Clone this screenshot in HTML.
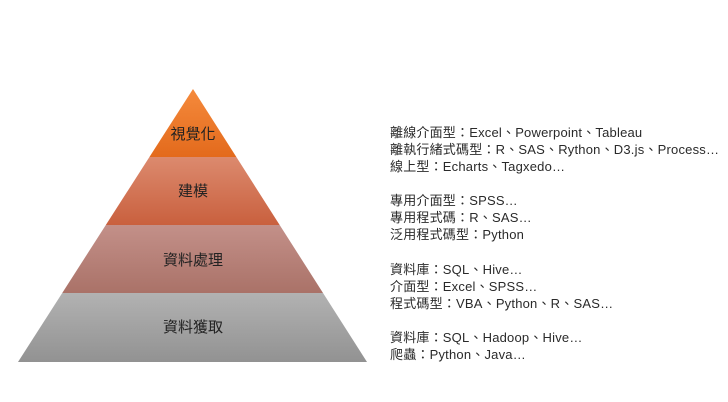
<!DOCTYPE html>
<html><head><meta charset="utf-8"><style>
body{margin:0;background:#fff;width:728px;height:402px;overflow:hidden;position:relative;font-family:"Liberation Sans","Noto Sans CJK TC",sans-serif}
.t{position:absolute;left:390px;font-size:13px;letter-spacing:0.2px;color:#2a2a2a;line-height:17px;white-space:nowrap}
</style></head><body>
<svg width="728" height="402" style="position:absolute;left:0;top:0">
<defs>
<clipPath id="c"><polygon points="193,89 367,362 18,362"/></clipPath>
<linearGradient id="g1" x1="0" y1="0" x2="0" y2="1"><stop offset="0" stop-color="#f58a3c"/><stop offset="1" stop-color="#e36a1c"/></linearGradient>
<linearGradient id="g2" x1="0" y1="0" x2="0" y2="1"><stop offset="0" stop-color="#dc8a6e"/><stop offset="1" stop-color="#c9603e"/></linearGradient>
<linearGradient id="g3" x1="0" y1="0" x2="0" y2="1"><stop offset="0" stop-color="#c39089"/><stop offset="1" stop-color="#aa7268"/></linearGradient>
<linearGradient id="g4" x1="0" y1="0" x2="0" y2="1"><stop offset="0" stop-color="#b2b2b2"/><stop offset="1" stop-color="#929292"/></linearGradient>
</defs>
<g clip-path="url(#c)">
<rect x="0" y="89" width="400" height="68" fill="url(#g1)"/>
<rect x="0" y="157" width="400" height="68" fill="url(#g2)"/>
<rect x="0" y="225" width="400" height="68" fill="url(#g3)"/>
<rect x="0" y="293" width="400" height="69" fill="url(#g4)"/>
</g>
<g font-family="Liberation Sans,Noto Sans CJK TC,sans-serif" font-size="15" text-anchor="middle" fill="#222">
<text x="193" y="139">視覺化</text>
<text x="193" y="196">建模</text>
<text x="193" y="265">資料處理</text>
<text x="193" y="332">資料獲取</text>
</g>
</svg>
<div class="t" style="top:124px">離線介面型：Excel、Powerpoint、Tableau<br>離執行緒式碼型：R、SAS、Rython、D3.js、Process…<br>線上型：Echarts、Tagxedo…</div>
<div class="t" style="top:192px">專用介面型：SPSS…<br>專用程式碼：R、SAS…<br>泛用程式碼型：Python</div>
<div class="t" style="top:261px">資料庫：SQL、Hive…<br>介面型：Excel、SPSS…<br>程式碼型：VBA、Python、R、SAS…</div>
<div class="t" style="top:329px">資料庫：SQL、Hadoop、Hive…<br>爬蟲：Python、Java…</div>
</body></html>
